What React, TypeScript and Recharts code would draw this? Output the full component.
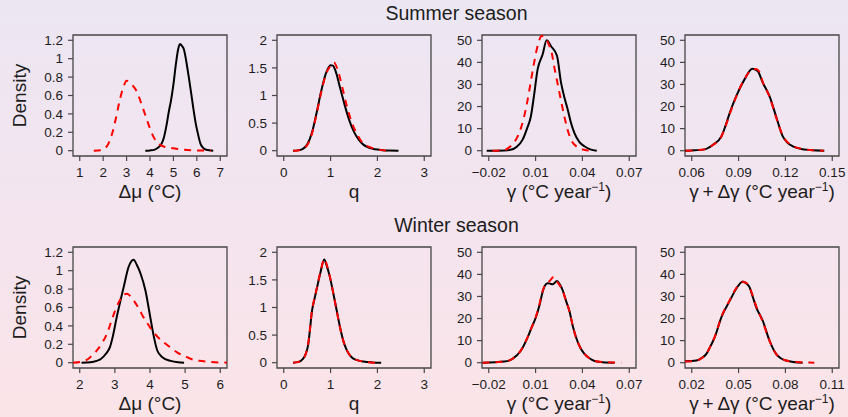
import { LineChart, Line, XAxis, YAxis, ReferenceArea } from 'recharts';

type Pt = [number, number];

// ---- summer season: black = solid, red = dashed ----
const sumMuBlack: Pt[] = [[3.8, 0], [4.0, 0.003], [4.2, 0.012], [4.35, 0.035], [4.5, 0.08], [4.6, 0.15], [4.7, 0.27], [4.8, 0.42], [4.9, 0.55], [5.0, 0.72], [5.1, 0.93], [5.2, 1.1], [5.28, 1.16], [5.36, 1.14], [5.45, 1.1], [5.55, 0.97], [5.65, 0.81], [5.75, 0.64], [5.85, 0.46], [5.95, 0.3], [6.05, 0.18], [6.15, 0.08], [6.25, 0.035], [6.4, 0.01], [6.7, 0]];
const sumMuRed: Pt[] = [[1.6, 0], [1.9, 0.005], [2.1, 0.03], [2.25, 0.09], [2.4, 0.2], [2.55, 0.36], [2.7, 0.54], [2.85, 0.68], [3.0, 0.76], [3.1, 0.75], [3.25, 0.71], [3.4, 0.66], [3.55, 0.57], [3.7, 0.46], [3.85, 0.35], [4.0, 0.24], [4.15, 0.15], [4.3, 0.09], [4.45, 0.06], [4.65, 0.04], [4.9, 0.03], [5.2, 0.018], [5.6, 0.008], [6.0, 0.003], [6.6, 0]];

const sumQBlack: Pt[] = [[0.2, 0], [0.3, 0.006], [0.4, 0.03], [0.5, 0.11], [0.6, 0.32], [0.7, 0.68], [0.8, 1.08], [0.9, 1.4], [1.0, 1.55], [1.05, 1.54], [1.1, 1.46], [1.2, 1.15], [1.3, 0.83], [1.4, 0.55], [1.5, 0.34], [1.6, 0.2], [1.7, 0.11], [1.8, 0.06], [1.9, 0.035], [2.0, 0.02], [2.1, 0.01], [2.25, 0.004], [2.45, 0]];
const sumQRed: Pt[] = [[0.2, 0], [0.3, 0.005], [0.4, 0.03], [0.5, 0.1], [0.6, 0.3], [0.7, 0.66], [0.8, 1.06], [0.9, 1.38], [1.0, 1.54], [1.07, 1.6], [1.15, 1.47], [1.25, 1.15], [1.35, 0.8], [1.45, 0.52], [1.55, 0.32], [1.65, 0.18], [1.75, 0.1], [1.85, 0.06], [1.95, 0.03], [2.05, 0.015], [2.2, 0]];

const sumGamBlack: Pt[] = [[-0.0213, 0], [-0.01, 0.1], [-0.006, 0.4], [-0.002, 1.8], [0.0017, 5], [0.0045, 10], [0.007, 15.6], [0.009, 25], [0.0113, 36.8], [0.0145, 43.6], [0.0171, 50], [0.0199, 47.3], [0.0237, 43], [0.0263, 30.8], [0.0285, 24], [0.0306, 18.6], [0.0327, 12.5], [0.0349, 8], [0.038, 4], [0.0413, 2], [0.045, 0.6], [0.0492, 0]];
const sumGamRed: Pt[] = [[-0.0176, 0], [-0.01, 0.3], [-0.0069, 1.5], [-0.0035, 4], [-0.0005, 8], [0.0025, 15], [0.0049, 23], [0.0071, 32], [0.0091, 40], [0.0115, 48], [0.0139, 52], [0.0165, 51], [0.0185, 48], [0.0203, 44.4], [0.0222, 37], [0.024, 30.8], [0.0262, 23], [0.0284, 15.6], [0.0305, 9.5], [0.0327, 5], [0.037, 1.5], [0.041, 0.4], [0.0456, 0]];

const sumGdBlack: Pt[] = [[0.0557, 0], [0.062, 0.2], [0.0683, 0.6], [0.0736, 2.7], [0.079, 6.5], [0.0815, 11], [0.0843, 17], [0.0885, 24.7], [0.0938, 32.3], [0.0988, 37.1], [0.1023, 36], [0.1055, 30.8], [0.1098, 24.7], [0.114, 15.6], [0.1183, 6.5], [0.1215, 3.5], [0.1247, 2], [0.13, 0.8], [0.136, 0.3], [0.1449, 0]];
const sumGdRed: Pt[] = [[0.056, 0], [0.062, 0.2], [0.068, 0.6], [0.0736, 2.6], [0.079, 6.4], [0.0815, 10.8], [0.0843, 16.5], [0.0885, 24.5], [0.0938, 32.5], [0.0985, 36.6], [0.101, 37], [0.1035, 35.5], [0.1055, 31], [0.1098, 24.5], [0.114, 15.2], [0.1183, 6.8], [0.1247, 2.2], [0.13, 0.9], [0.136, 0.3], [0.1445, 0]];

// ---- winter season ----
const winMuBlack: Pt[] = [[2.05, 0], [2.3, 0.005], [2.48, 0.02], [2.6, 0.04], [2.75, 0.1], [2.86, 0.17], [2.95, 0.3], [3.05, 0.49], [3.15, 0.66], [3.25, 0.82], [3.39, 1.04], [3.53, 1.12], [3.63, 1.06], [3.73, 0.97], [3.87, 0.785], [4.01, 0.49], [4.1, 0.3], [4.21, 0.13], [4.35, 0.06], [4.59, 0.02], [4.8, 0.005], [4.97, 0]];
const winMuRed: Pt[] = [[1.81, 0], [2.14, 0.02], [2.3, 0.06], [2.48, 0.13], [2.63, 0.21], [2.77, 0.31], [2.9, 0.45], [3.01, 0.57], [3.13, 0.67], [3.25, 0.74], [3.35, 0.75], [3.45, 0.72], [3.53, 0.68], [3.68, 0.59], [3.82, 0.49], [3.94, 0.42], [4.06, 0.35], [4.22, 0.28], [4.4, 0.22], [4.6, 0.16], [4.78, 0.11], [5.0, 0.07], [5.17, 0.04], [5.4, 0.02], [5.65, 0.01], [6.19, 0]];

const winQBlack: Pt[] = [[0.2, 0], [0.3, 0.01], [0.41, 0.07], [0.47, 0.16], [0.52, 0.32], [0.56, 0.6], [0.6, 0.92], [0.65, 1.13], [0.7, 1.32], [0.78, 1.62], [0.864, 1.87], [0.92, 1.75], [0.986, 1.55], [1.06, 1.25], [1.13, 0.95], [1.2, 0.65], [1.27, 0.4], [1.35, 0.22], [1.45, 0.1], [1.55, 0.05], [1.7, 0.02], [1.9, 0.005], [2.08, 0]];
const winQRed: Pt[] = [[0.2, 0], [0.3, 0.01], [0.41, 0.07], [0.47, 0.16], [0.52, 0.33], [0.56, 0.61], [0.6, 0.93], [0.65, 1.14], [0.7, 1.33], [0.78, 1.63], [0.87, 1.88], [0.93, 1.74], [0.99, 1.54], [1.06, 1.25], [1.13, 0.94], [1.2, 0.64], [1.27, 0.4], [1.35, 0.22], [1.45, 0.1], [1.55, 0.05], [1.7, 0.02], [1.85, 0.005], [1.95, 0]];

const winGamBlack: Pt[] = [[-0.024, 0], [-0.0101, 0.5], [-0.0048, 1.7], [0.0006, 5.5], [0.0049, 11.5], [0.0075, 16], [0.0102, 20.6], [0.0125, 26], [0.0145, 32], [0.016, 35], [0.0177, 36], [0.0195, 35.8], [0.021, 35.5], [0.0237, 37], [0.0255, 35.5], [0.0274, 32.7], [0.0295, 28], [0.0316, 23.6], [0.0337, 17], [0.0359, 11.5], [0.0385, 7], [0.0413, 4], [0.0445, 2], [0.0477, 0.8], [0.053, 0.2], [0.0606, 0]];
const winGamRed: Pt[] = [[-0.024, 0], [-0.0101, 0.5], [-0.0048, 1.8], [0.0006, 5.6], [0.0049, 11.6], [0.0075, 16], [0.0102, 20.8], [0.0125, 26.5], [0.0145, 32.5], [0.0165, 35.5], [0.019, 37], [0.0216, 38.8], [0.024, 36.5], [0.0255, 35], [0.0274, 32.5], [0.0295, 28], [0.0316, 23.5], [0.0337, 17], [0.0359, 11.3], [0.0385, 7], [0.0413, 4], [0.0445, 2], [0.0477, 0.9], [0.053, 0.3], [0.0649, 0]];

const winGdBlack: Pt[] = [[0.0157, 0.7], [0.023, 1], [0.0265, 2.2], [0.0294, 4], [0.032, 7.5], [0.0347, 11.5], [0.039, 20.6], [0.0443, 28], [0.0485, 33.5], [0.0527, 36.8], [0.0548, 36], [0.057, 34.2], [0.059, 30], [0.0613, 25.1], [0.0655, 19], [0.0698, 10], [0.074, 4], [0.077, 2], [0.0804, 1], [0.085, 0.3], [0.091, 0]];
const winGdRed: Pt[] = [[0.0157, 0.5], [0.023, 0.9], [0.0265, 2.1], [0.0294, 4], [0.032, 7.5], [0.0347, 11.7], [0.039, 20.8], [0.0443, 28.3], [0.0485, 33.8], [0.053, 36.6], [0.055, 36.2], [0.057, 34], [0.059, 30.5], [0.0613, 25.5], [0.0655, 18.5], [0.0698, 10], [0.074, 4], [0.077, 2], [0.0804, 1], [0.088, 0.3], [0.0985, 0]];

// ---- ticks ----
const muSumTicks = [1, 2, 3, 4, 5, 6, 7];
const muWinTicks = [2, 3, 4, 5, 6];
const qTicks = [0, 1, 2, 3];
const gamTicks = [-0.02, 0.01, 0.04, 0.07];
const gdSumTicks = [0.06, 0.09, 0.12, 0.15];
const gdWinTicks = [0.02, 0.05, 0.08, 0.11];
const gamLabels = ['\u22120.02', '0.01', '0.04', '0.07'];

const muDensTicks = [0, 0.2, 0.4, 0.6, 0.8, 1, 1.2];
const qDensTicks = [0, 0.5, 1, 1.5, 2];
const gamDensTicks = [0, 10, 20, 30, 40, 50];

const FONT = '"Liberation Sans", Arial, Helvetica, sans-serif';
const INK = '#1c1c1c';
const FRAME = '#474747';

const BOX_W = 154;
const BOX_H = 121;
const PAD_L = 72;
const PAD_T = 10;
const PAD_R = 12;
const AXIS_H = 58;
const COLS = [73, 277, 481.5, 685];
const ROWS = [35, 246.7];

const toRows = (pts: Pt[]) => pts.map(([x, y]) => ({ x, y }));
const padDomain = (t: number[]): [number, number] => {
  const span = t[t.length - 1] - t[0];
  return [t[0] - 0.048 * span, t[t.length - 1] + 0.048 * span];
};
const fmt = (v: number) => String(Math.round(v * 1000) / 1000);

type Title = { main: string; unit?: string };

const xTitle = (title: Title) => (props: any) => {
  const vb = props.viewBox || {};
  const cx = vb.x + vb.width / 2;
  const y = vb.y + 42;
  return (
    <text x={cx} y={y} textAnchor="middle" fontSize={19} fontFamily={FONT} fill={INK}>
      {title.unit ? (
        <>
          <tspan>{title.main}</tspan>
          <tspan dy={-7} fontSize={12}>{'\u22121'}</tspan>
          <tspan dy={7}>)</tspan>
        </>
      ) : (
        title.main
      )}
    </text>
  );
};

// baseline of the rotated "Density" sits 47px left of the plot box
const yTitle = (props: any) => {
  const vb = props.viewBox || {};
  const x = vb.x + vb.width - 47;
  const cy = vb.y + vb.height / 2;
  return (
    <text x={x} y={cy} transform={`rotate(-90, ${x}, ${cy})`} textAnchor="middle" fontSize={19} fontFamily={FONT} fill={INK}>
      Density
    </text>
  );
};

interface PanelProps {
  col: number;
  row: number;
  black: Pt[];
  red: Pt[];
  xTicks: number[];
  xLabels?: string[];
  yTicks: number[];
  title: Title;
  density?: boolean;
}

function Panel({ col, row, black, red, xTicks, xLabels, yTicks, title, density }: PanelProps) {
  const xDom = padDomain(xTicks);
  const yDom = padDomain(yTicks);
  const tickStyle = { fontSize: 13.5, fill: INK, fontFamily: FONT };
  return (
    <div style={{ position: 'absolute', left: COLS[col] - PAD_L, top: ROWS[row] - PAD_T }}>
      <LineChart
        width={PAD_L + BOX_W + PAD_R}
        height={PAD_T + BOX_H + AXIS_H}
        margin={{ top: PAD_T, right: PAD_R, left: 0, bottom: 0 }}
      >
        <XAxis
          type="number"
          dataKey="x"
          domain={xDom}
          ticks={xTicks}
          interval={0}
          allowDataOverflow
          height={AXIS_H}
          axisLine={false}
          tickLine={{ stroke: FRAME, strokeWidth: 1.2 }}
          tickSize={5}
          tickMargin={6}
          tick={tickStyle}
          tickFormatter={(v: number) => (xLabels ? xLabels[xTicks.indexOf(v)] : fmt(v))}
          label={xTitle(title)}
        />
        <YAxis
          type="number"
          domain={yDom}
          ticks={yTicks}
          interval={0}
          allowDataOverflow
          width={PAD_L}
          axisLine={false}
          tickLine={{ stroke: FRAME, strokeWidth: 1.2 }}
          tickSize={5}
          tickMargin={5}
          tick={tickStyle}
          tickFormatter={fmt}
          label={density ? yTitle : undefined}
        />
        <ReferenceArea
          x1={xDom[0]}
          x2={xDom[1]}
          y1={yDom[0]}
          y2={yDom[1]}
          fill="none"
          fillOpacity={0}
          stroke={FRAME}
          strokeWidth={1.3}
          ifOverflow="visible"
        />
        <Line data={toRows(black)} dataKey="y" type="monotone" stroke="#000000" strokeWidth={2} dot={false} isAnimationActive={false} />
        <Line data={toRows(red)} dataKey="y" type="monotone" stroke="#ff0000" strokeWidth={2} strokeDasharray="7 6" dot={false} isAnimationActive={false} />
      </LineChart>
    </div>
  );
}

const muTitle = { main: '\u0394\u03bc (\u00b0C)' };
const qTitle = { main: 'q' };
const gamTitle = { main: '\u03b3 (\u00b0C year', unit: '-1' };
const gdTitle = { main: '\u03b3\u2009+\u2009\u0394\u03b3 (\u00b0C year', unit: '-1' };

export default function App() {
  return (
    <div
      style={{
        position: 'absolute',
        left: 0,
        top: 0,
        width: 848,
        height: 417,
        overflow: 'hidden',
        background: 'linear-gradient(to bottom, #ece6f3 0%, #f4e4ee 55%, #fbe4e8 100%)',
        fontFamily: FONT,
      }}
    >
      <svg width={848} height={417} style={{ position: 'absolute', left: 0, top: 0 }}>
        <text x={456.5} y={20} textAnchor="middle" fontSize={19.5} fontFamily={FONT} fill={INK}>
          Summer season
        </text>
        <text x={456.5} y={232} textAnchor="middle" fontSize={19.5} fontFamily={FONT} fill={INK}>
          Winter season
        </text>
      </svg>

      <Panel col={0} row={0} black={sumMuBlack} red={sumMuRed} xTicks={muSumTicks} yTicks={muDensTicks} title={muTitle} density />
      <Panel col={1} row={0} black={sumQBlack} red={sumQRed} xTicks={qTicks} yTicks={qDensTicks} title={qTitle} />
      <Panel col={2} row={0} black={sumGamBlack} red={sumGamRed} xTicks={gamTicks} xLabels={gamLabels} yTicks={gamDensTicks} title={gamTitle} />
      <Panel col={3} row={0} black={sumGdBlack} red={sumGdRed} xTicks={gdSumTicks} yTicks={gamDensTicks} title={gdTitle} />

      <Panel col={0} row={1} black={winMuBlack} red={winMuRed} xTicks={muWinTicks} yTicks={muDensTicks} title={muTitle} density />
      <Panel col={1} row={1} black={winQBlack} red={winQRed} xTicks={qTicks} yTicks={qDensTicks} title={qTitle} />
      <Panel col={2} row={1} black={winGamBlack} red={winGamRed} xTicks={gamTicks} xLabels={gamLabels} yTicks={gamDensTicks} title={gamTitle} />
      <Panel col={3} row={1} black={winGdBlack} red={winGdRed} xTicks={gdWinTicks} yTicks={gamDensTicks} title={gdTitle} />
    </div>
  );
}
